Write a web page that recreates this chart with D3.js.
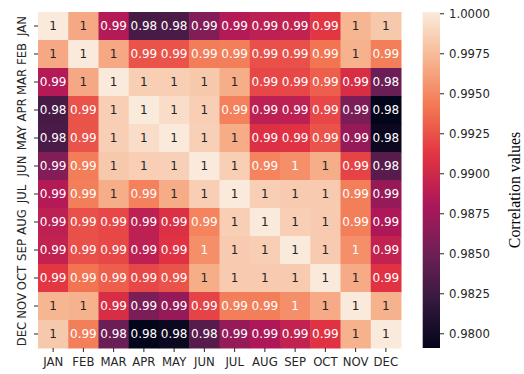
<!DOCTYPE html>
<html>
<head>
<meta charset="utf-8">
<script src="https://cdn.jsdelivr.net/npm/d3@7"></script>
<style>
  body { margin: 0; background: #fff; }
  svg { display: block; }
</style>
</head>
<body>
<div id="chart"></div>
<script>
// month labels, both axes
const months = ["JAN", "FEB", "MAR", "APR", "MAY", "JUN", "JUL", "AUG", "SEP", "OCT", "NOV", "DEC"];

// correlation matrix (annotations are .2g of these)
const corr = [
  [1.0000, 0.9965, 0.9885, 0.9830, 0.9832, 0.9860, 0.9885, 0.9890, 0.9893, 0.9912, 0.9972, 0.9982],
  [0.9965, 1.0000, 0.9965, 0.9925, 0.9925, 0.9944, 0.9945, 0.9924, 0.9924, 0.9940, 0.9970, 0.9945],
  [0.9885, 0.9965, 1.0000, 0.9985, 0.9985, 0.9982, 0.9968, 0.9920, 0.9920, 0.9930, 0.9905, 0.9848],
  [0.9830, 0.9925, 0.9985, 1.0000, 0.9993, 0.9985, 0.9946, 0.9890, 0.9890, 0.9920, 0.9856, 0.9791],
  [0.9832, 0.9925, 0.9985, 0.9993, 1.0000, 0.9986, 0.9967, 0.9908, 0.9910, 0.9925, 0.9870, 0.9796],
  [0.9860, 0.9944, 0.9982, 0.9985, 0.9986, 1.0000, 0.9985, 0.9947, 0.9953, 0.9968, 0.9918, 0.9838],
  [0.9885, 0.9945, 0.9968, 0.9946, 0.9967, 0.9985, 1.0000, 0.9985, 0.9983, 0.9983, 0.9945, 0.9870],
  [0.9890, 0.9924, 0.9920, 0.9890, 0.9908, 0.9947, 0.9985, 1.0000, 0.9985, 0.9983, 0.9945, 0.9882],
  [0.9893, 0.9924, 0.9920, 0.9890, 0.9910, 0.9953, 0.9983, 0.9985, 1.0000, 0.9983, 0.9953, 0.9893],
  [0.9912, 0.9940, 0.9930, 0.9920, 0.9925, 0.9968, 0.9983, 0.9983, 0.9983, 1.0000, 0.9966, 0.9910],
  [0.9972, 0.9970, 0.9905, 0.9856, 0.9870, 0.9918, 0.9945, 0.9945, 0.9953, 0.9966, 1.0000, 0.9970],
  [0.9982, 0.9945, 0.9848, 0.9791, 0.9796, 0.9838, 0.9870, 0.9882, 0.9893, 0.9910, 0.9970, 1.0000]
];

// colorbar range and ticks
const vmin = 0.97908, vmax = 1.00008;
const cbarTicks = [0.98, 0.9825, 0.985, 0.9875, 0.99, 0.9925, 0.995, 0.9975, 1.0];

// seaborn "rocket" approximated by a few stops
const rocketStops = ["#03051a", "#35193e", "#701f57", "#ad1759", "#e13342", "#f37651", "#f6b48f", "#faebdd"];

const width = 524, height = 374;
const plot = { left: 38, right: 401, top: 12, bottom: 348 };
const cbar = { left: 422.7, right: 440 };
const tickFont = "11.7px";

const svg = d3.select("#chart").append("svg")
  .attr("width", width)
  .attr("height", height)
  .style("font-family", "'DejaVu Sans', sans-serif");

const x = d3.scaleBand().domain(months).range([plot.left, plot.right]);
const y = d3.scaleBand().domain(months).range([plot.top, plot.bottom]);

const rocket = d3.scaleLinear()
  .domain(rocketStops.map((c, i) => i / (rocketStops.length - 1)))
  .range(rocketStops)
  .interpolate(d3.interpolateRgb)
  .clamp(true);
const color = v => rocket((v - vmin) / (vmax - vmin));

// seaborn picks annotation colour from luminance of the cell
function luminance(c) {
  const rgb = d3.rgb(c);
  const f = v => { v /= 255; return v <= 0.03928 ? v / 12.92 : Math.pow((v + 0.055) / 1.055, 2.4); };
  return 0.2126 * f(rgb.r) + 0.7152 * f(rgb.g) + 0.0722 * f(rgb.b);
}

const cells = [];
corr.forEach((row, i) => row.forEach((v, j) => cells.push({ r: months[i], c: months[j], v: v })));

svg.append("g").selectAll("rect")
  .data(cells)
  .enter().append("rect")
    .attr("x", d => x(d.c))
    .attr("y", d => y(d.r))
    .attr("width", x.bandwidth() + 0.5)
    .attr("height", y.bandwidth() + 0.5)
    .attr("fill", d => color(d.v));

const fmt = d3.format(".2~g");
svg.append("g").selectAll("text")
  .data(cells)
  .enter().append("text")
    .attr("x", d => x(d.c) + x.bandwidth() / 2)
    .attr("y", d => y(d.r) + y.bandwidth() / 2)
    .attr("text-anchor", "middle")
    .attr("dominant-baseline", "central")
    .attr("font-size", "12px")
    .attr("fill", d => luminance(color(d.v)) > 0.408 ? "#262626" : "#ffffff")
    .text(d => fmt(d.v));

// axes
const xAxis = svg.append("g")
  .attr("transform", `translate(0,${plot.bottom})`)
  .call(d3.axisBottom(x).tickSize(4).tickPadding(6));
xAxis.select(".domain").remove();
xAxis.selectAll("text").attr("font-size", tickFont).attr("fill", "#262626").style("font-family", "'DejaVu Sans', sans-serif");
xAxis.selectAll("line").attr("stroke", "#262626");

const yAxis = svg.append("g")
  .attr("transform", `translate(${plot.left},0)`)
  .call(d3.axisLeft(y).tickSize(4).tickPadding(3));
yAxis.select(".domain").remove();
yAxis.selectAll("line").attr("stroke", "#262626");
yAxis.selectAll("text")
  .attr("font-size", tickFont)
  .attr("fill", "#262626")
  .style("font-family", "'DejaVu Sans', sans-serif")
  .attr("x", null).attr("dy", null)
  .attr("text-anchor", "middle")
  .attr("dominant-baseline", "central")
  .attr("transform", "translate(-16,0) rotate(-90)");

// colorbar
const cy = d3.scaleLinear().domain([vmin, vmax]).range([plot.bottom, plot.top]);
const grad = svg.append("defs").append("linearGradient")
  .attr("id", "cbar-grad")
  .attr("x1", 0).attr("y1", 1).attr("x2", 0).attr("y2", 0);
grad.selectAll("stop")
  .data(d3.range(0, 1.0001, 0.02))
  .enter().append("stop")
    .attr("offset", d => d)
    .attr("stop-color", d => rocket(d));

svg.append("rect")
  .attr("x", cbar.left)
  .attr("y", plot.top)
  .attr("width", cbar.right - cbar.left)
  .attr("height", plot.bottom - plot.top)
  .attr("fill", "url(#cbar-grad)");

const cAxis = svg.append("g")
  .attr("transform", `translate(${cbar.right},0)`)
  .call(d3.axisRight(cy).tickValues(cbarTicks).tickFormat(d3.format(".4f")).tickSize(4).tickPadding(5));
cAxis.select(".domain").remove();
cAxis.selectAll("line").attr("stroke", "#262626");
cAxis.selectAll("text").attr("font-size", tickFont).attr("fill", "#262626").style("font-family", "'DejaVu Sans', sans-serif");

svg.append("text")
  .attr("transform", `translate(514,190) rotate(-90)`)
  .attr("text-anchor", "middle")
  .attr("dominant-baseline", "central")
  .style("font-family", "'Liberation Serif', 'Times New Roman', serif")
  .attr("font-size", "15.8px")
  .attr("fill", "#000")
  .text("Correlation values");
</script>
</body>
</html>
